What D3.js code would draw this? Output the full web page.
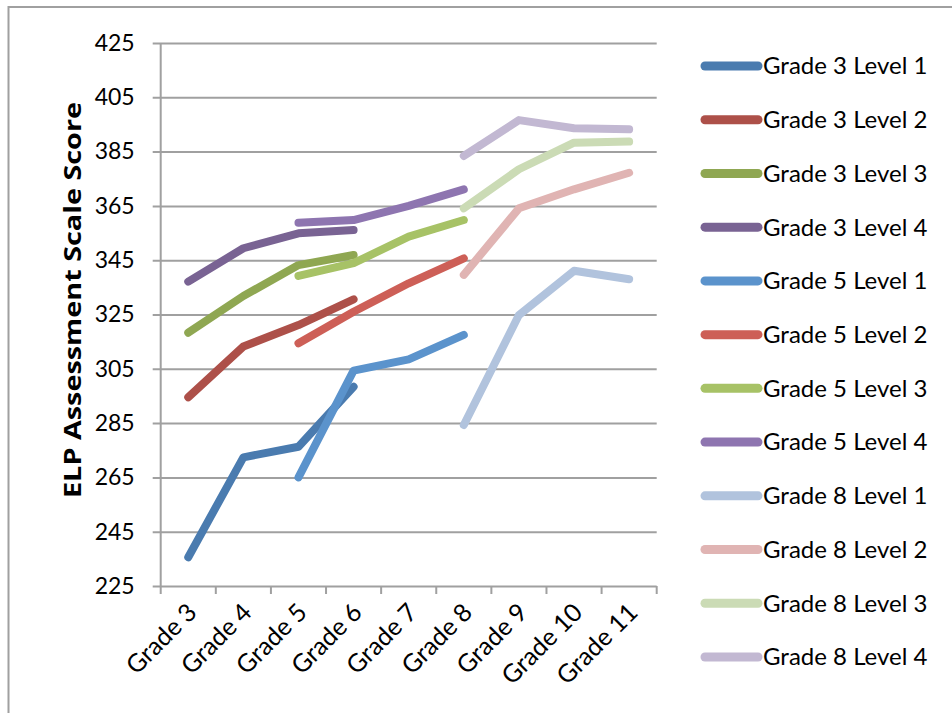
<!DOCTYPE html>
<html lang="en">
<head>
    <meta charset="UTF-8">
    <title>ELP Assessment Scale Score</title>
    <script src="https://cdn.jsdelivr.net/npm/d3@7"></script>
    <style>
        html, body {
            margin: 0;
            background: #fff;
            font-family: Lato, "Open Sans", sans-serif;
        }
    </style>
</head>
<body>
    <div id="vis"></div>
    <script>
        // categories along the x axis
        var grades = ["Grade 3", "Grade 4", "Grade 5", "Grade 6", "Grade 7",
                      "Grade 8", "Grade 9", "Grade 10", "Grade 11"];

        // y axis ticks
        var yTicks = [225, 245, 265, 285, 305, 325, 345, 365, 385, 405, 425];

        // series names (legend order)
        var seriesNames = ["Grade 3 Level 1", "Grade 3 Level 2", "Grade 3 Level 3", "Grade 3 Level 4",
                           "Grade 5 Level 1", "Grade 5 Level 2", "Grade 5 Level 3", "Grade 5 Level 4",
                           "Grade 8 Level 1", "Grade 8 Level 2", "Grade 8 Level 3", "Grade 8 Level 4"];

        // values per series, one per grade (null = no data)
        var g3l1 = [235.6, 272.4, 276.3, 298.4, null, null, null, null, null];
        var g3l2 = [294.5, 313.2, 321.1, 330.6, null, null, null, null, null];
        var g3l3 = [318.3, 331.8, 343.2, 346.9, null, null, null, null, null];
        var g3l4 = [337.1, 349.4, 354.9, 356.1, null, null, null, null, null];
        var g5l1 = [null, null, 265.0, 304.3, 308.5, 317.5, null, null, null];
        var g5l2 = [null, null, 314.4, 326.0, 336.5, 345.7, null, null, null];
        var g5l3 = [null, null, 339.2, 343.9, 353.7, 359.8, null, null, null];
        var g5l4 = [null, null, 358.8, 359.8, 365.0, 371.1, null, null, null];
        var g8l1 = [null, null, null, null, null, 284.3, 324.8, 341.1, 338.0];
        var g8l2 = [null, null, null, null, null, 339.6, 364.1, 371.1, 377.2];
        var g8l3 = [null, null, null, null, null, 364.1, 378.5, 388.3, 388.7];
        var g8l4 = [null, null, null, null, null, 383.4, 396.6, 393.6, 393.2];

        var seriesValues = [g3l1, g3l2, g3l3, g3l4, g5l1, g5l2, g5l3, g5l4, g8l1, g8l2, g8l3, g8l4];

        var colours = ["#4a7baf", "#ad5049", "#8fa752", "#796393",
                       "#5b93cc", "#cd5f57", "#a7c266", "#8e75b0",
                       "#b1c3dd", "#e0b4b3", "#cbdbb5", "#c2b8d2"];

        var W = 952, H = 713;
        var plot = {left: 160.7, right: 656.7, top: 43, bottom: 586};

        var svg = d3.select("#vis")
            .append("svg")
                .attr("width", W)
                .attr("height", H);

        // outer chart frame
        svg.append("rect")
            .attr("x", 8.5).attr("y", 7)
            .attr("width", W + 20).attr("height", H + 20)
            .attr("fill", "none")
            .attr("stroke", "#a0a0a0")
            .attr("stroke-width", 2);

        var x = d3.scaleBand()
            .domain(grades)
            .range([plot.left, plot.right]);

        var y = d3.scaleLinear()
            .domain([225, 425])
            .range([plot.bottom, plot.top]);

        // horizontal gridlines + y axis
        var yAxis = d3.axisLeft(y)
            .tickValues(yTicks)
            .tickSize(-(plot.right - plot.left))
            .tickPadding(26)
            .tickFormat(d3.format("d"));

        var gy = svg.append("g")
            .attr("transform", "translate(" + plot.left + ",0)")
            .call(yAxis);
        gy.select(".domain").remove();
        gy.selectAll(".tick line")
            .attr("x1", -8)
            .attr("stroke", "#a0a0a0")
            .attr("stroke-width", 2);
        gy.selectAll(".tick text")
            .attr("font-size", "23px")
            .attr("font-family", "Lato, 'Open Sans', sans-serif")
            .attr("fill", "#000");

        svg.append("line")
            .attr("x1", plot.left).attr("x2", plot.left)
            .attr("y1", plot.top).attr("y2", plot.bottom)
            .attr("stroke", "#a0a0a0")
            .attr("stroke-width", 2);

        // x axis
        var xEdges = grades.map(function(g){ return x(g); }).concat([plot.right]);
        svg.selectAll(".xtick")
            .data(xEdges)
            .enter()
            .append("line")
            .attr("class", "xtick")
            .attr("x1", function(d){ return d; })
            .attr("x2", function(d){ return d; })
            .attr("y1", plot.bottom)
            .attr("y2", plot.bottom + 8)
            .attr("stroke", "#a0a0a0")
            .attr("stroke-width", 2);

        svg.selectAll(".xlabel")
            .data(grades)
            .enter()
            .append("text")
            .attr("class", "xlabel")
            .attr("text-anchor", "end")
            .attr("font-size", "25px")
            .attr("transform", function(d){
                return "translate(" + (x(d) + x.bandwidth() / 2 + 10) + "," + (plot.bottom + 28) + ")rotate(-45)";
            })
            .text(function(d){ return d; });

        // y axis title
        svg.append("text")
            .attr("transform", "translate(81," + 300 + ")rotate(-90)")
            .attr("text-anchor", "middle")
            .attr("font-size", "24px")
            .attr("font-weight", "bold")
            .attr("font-family", "'Open Sans', Lato, sans-serif")
            .attr("textLength", 396)
            .attr("lengthAdjust", "spacingAndGlyphs")
            .text("ELP Assessment Scale Score");

        // lines
        var line = d3.line()
            .defined(function(d){ return d !== null; })
            .x(function(d, i){ return x(grades[i]) + x.bandwidth() / 2; })
            .y(function(d){ return y(d); });

        svg.selectAll(".series")
            .data(seriesValues)
            .enter()
            .append("path")
            .attr("class", "series")
            .attr("d", line)
            .attr("fill", "none")
            .attr("stroke", function(d, i){ return colours[i]; })
            .attr("stroke-width", 8)
            .attr("stroke-linecap", "round")
            .attr("stroke-linejoin", "round");

        // legend
        var legendY = d3.scaleLinear()
            .domain([0, seriesNames.length - 1])
            .range([66, 657]);

        var legend = svg.selectAll(".legend")
            .data(seriesNames)
            .enter()
            .append("g")
            .attr("class", "legend")
            .attr("transform", function(d, i){ return "translate(0," + legendY(i) + ")"; });

        legend.append("line")
            .attr("x1", 705).attr("x2", 758)
            .attr("stroke", function(d, i){ return colours[i]; })
            .attr("stroke-width", 9)
            .attr("stroke-linecap", "round");

        legend.append("text")
            .attr("x", 763)
            .attr("dy", "0.35em")
            .attr("font-size", "24px")
            .text(function(d){ return d; });
    </script>
</body>
</html>
